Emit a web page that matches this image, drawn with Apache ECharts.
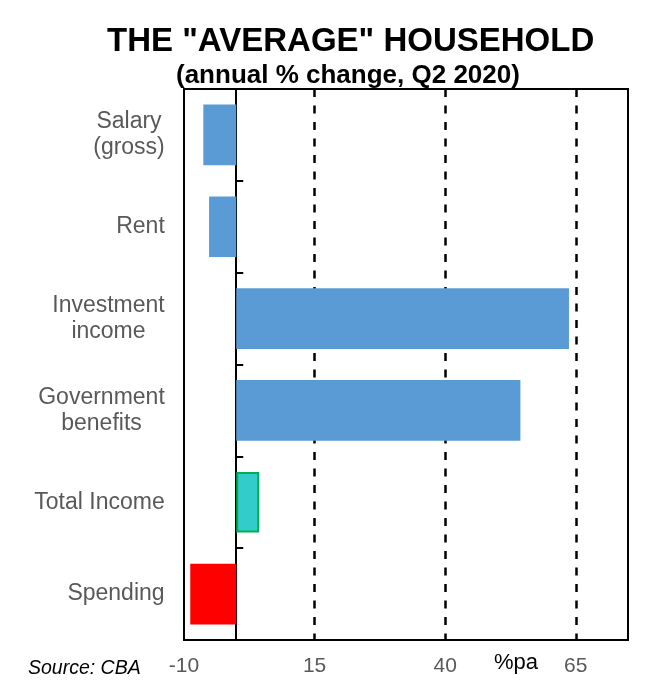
<!DOCTYPE html>
<html>
<head>
<meta charset="utf-8">
<script src="https://cdn.jsdelivr.net/npm/echarts@6/dist/echarts.min.js"></script>
<style>
html,body{margin:0;padding:0;background:#fff;}
#c{width:662px;height:694px;}
</style>
</head>
<body>
<div id="c"></div>
<script>
const categories = ["Salary\n(gross)", "Rent", "Investment\nincome", "Government\nbenefits", "Total Income", "Spending"];
const values = [-6.3, -5.2, 63.7, 54.4, 4.4, -8.8];
const barColors = ["#5B9BD5", "#5B9BD5", "#5B9BD5", "#5B9BD5", "#33CCCC", "#FF0000"];
const barBorders = [null, null, null, null, "#00B050", null];
const xTicks = [-10, 15, 40, 65];

const LABEL_FONT = '23px "Liberation Sans", Arial, sans-serif';
const mctx = document.createElement('canvas').getContext('2d');
mctx.font = LABEL_FONT;
function fmtLabel(v) {
  const lines = v.split('\n');
  const w = Math.ceil(Math.max.apply(null, lines.map(l => mctx.measureText(l).width)));
  return lines.map(l => '{a' + '|' + l + '}').join('\n').replace(/\{a\|/g, '{a' + w + '|');
}
const rich = {};
categories.forEach(c => {
  const lines = c.split('\n');
  const w = Math.ceil(Math.max.apply(null, lines.map(l => mctx.measureText(l).width)));
  rich['a' + w] = {width: w, align: 'center', color: '#595959', fontSize: 23, fontFamily: 'Liberation Sans, Arial, sans-serif', lineHeight: 26};
});

const chart = echarts.init(document.getElementById('c'), null, {renderer: 'canvas'});
const data = values.map((v, i) => ({
  value: v,
  itemStyle: {
    color: barColors[i],
    borderColor: barBorders[i] || barColors[i],
    borderWidth: barBorders[i] ? 2 : 0
  }
}));
chart.setOption({
  animation: false,
  title: [
    {text: 'THE "AVERAGE" HOUSEHOLD', left: 102, top: 20,
     textStyle: {fontFamily: 'Liberation Sans Narrow, Arial Narrow, Liberation Sans, sans-serif', fontWeight: 'bold', fontSize: 33, color: '#000'}},
    {text: '(annual % change, Q2 2020)', left: 171, top: 58,
     textStyle: {fontFamily: 'Liberation Sans Narrow, Arial Narrow, Liberation Sans, sans-serif', fontWeight: 'bold', fontSize: 26, color: '#000'}}
  ],
  grid: {left: 184, top: 89, right: 34, bottom: 54, show: true, borderColor: '#000', borderWidth: 2, backgroundColor: 'transparent', containLabel: false},
  xAxis: {
    type: 'value', min: xTicks[0], max: 75, interval: 25,
    axisLine: {show: true, onZero: false, lineStyle: {color: '#000', width: 2}},
    axisTick: {show: false},
    splitLine: {show: true, showMinLine: false, showMaxLine: false, lineStyle: {color: '#000', type: [8, 8.5], width: 2.5}},
    axisLabel: {showMaxLabel: false, color: '#595959', fontSize: 21, fontFamily: 'Liberation Sans, Arial, sans-serif', margin: 16}
  },
  yAxis: [
    {
      type: 'category', data: categories, inverse: true,
      axisLine: {show: false, onZero: false},
      axisTick: {show: false},
      axisLabel: {color: '#595959', fontSize: 23, fontFamily: 'Liberation Sans, Arial, sans-serif', margin: 19, align: 'right', lineHeight: 26,
                  formatter: fmtLabel, rich: rich}
    },
    {
      type: 'category', data: categories, inverse: true, position: 'left',
      axisLine: {show: true, onZero: true, lineStyle: {color: '#000', width: 2}},
      axisTick: {show: true, inside: true, length: 7, lineStyle: {color: '#000', width: 2}},
      axisLabel: {show: false}
    }
  ],
  series: [{
    type: 'bar', yAxisIndex: 0, data: data, barCategoryGap: '34%'
  }],
  graphic: [
    {type: 'text', left: 494, top: 652, style: {text: '%pa', fill: '#000', fontSize: 22, fontFamily: 'Liberation Sans, Arial, sans-serif'}},
    {type: 'text', left: 28, top: 659, style: {text: 'Source: CBA', fill: '#000', fontSize: 19.5, fontStyle: 'italic', fontFamily: 'Liberation Sans, Arial, sans-serif'}}
  ]
});
</script>
</body>
</html>
